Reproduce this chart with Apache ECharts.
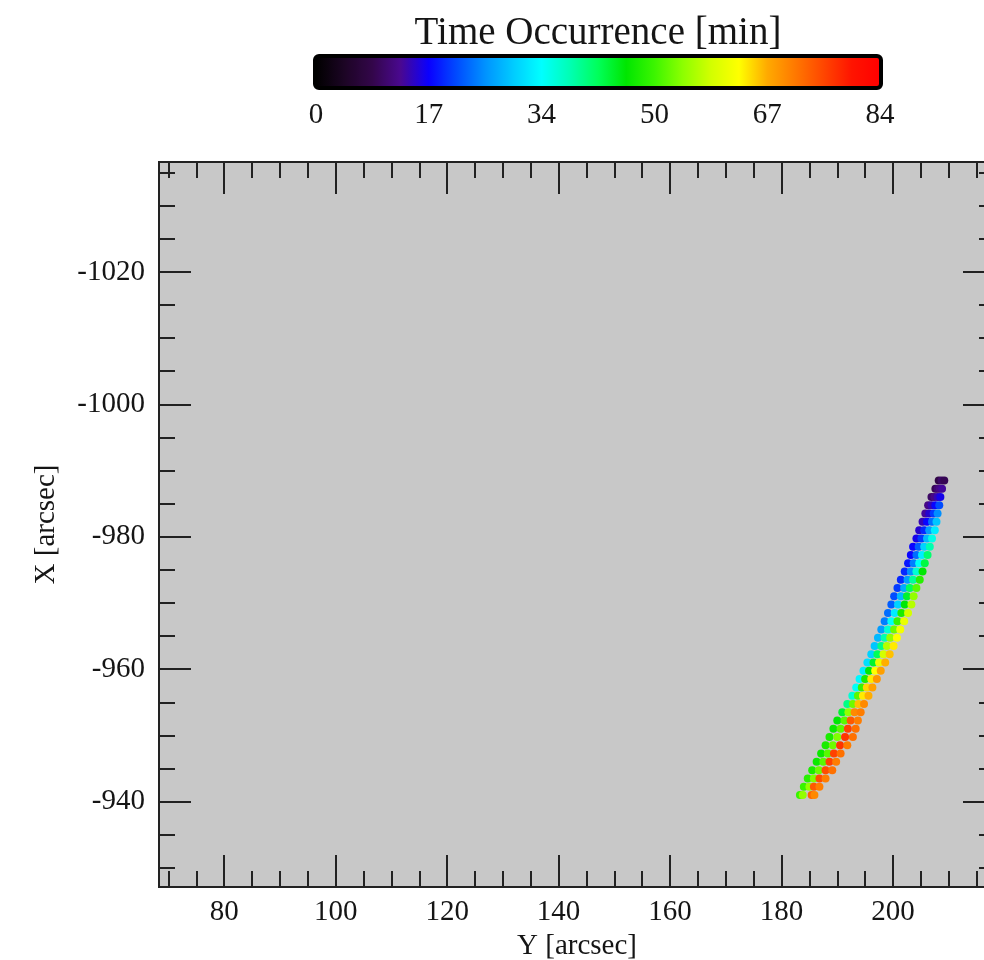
<!DOCTYPE html>
<html>
<head>
<meta charset="utf-8">
<title>Time Occurrence</title>
<script src="https://cdn.jsdelivr.net/npm/echarts@6/dist/echarts.min.js"></script>
<style>
  html, body { margin: 0; padding: 0; background: #ffffff; }
  #chart { width: 984px; height: 960px; }
</style>
</head>
<body>
<div id="chart"></div>
<script>
// Ribbon footpoints: [Y arcsec, X arcsec, time in minutes], four strands across the ribbon
const stripLeft = [
  [208.2, -988.5, 8], [207.6, -987.25, 9], [206.9, -986, 10], [206.3, -984.75, 12],
  [205.8, -983.5, 13], [205.3, -982.25, 14], [204.7, -981, 15], [204.2, -979.75, 16],
  [203.6, -978.5, 17], [203.2, -977.25, 17], [202.7, -976, 18], [202.1, -974.75, 19],
  [201.4, -973.5, 19], [200.8, -972.25, 20], [200.2, -971, 21], [199.7, -969.75, 22],
  [199.1, -968.5, 23], [198.5, -967.25, 24], [197.9, -966, 26], [197.3, -964.75, 28],
  [196.7, -963.5, 29], [196.1, -962.25, 30], [195.4, -961, 31], [194.7, -959.75, 32],
  [194.0, -958.5, 33], [193.4, -957.25, 34], [192.7, -956, 36], [191.8, -954.75, 40],
  [190.9, -953.5, 44], [190.0, -952.25, 46], [189.3, -951, 47], [188.6, -949.75, 48],
  [187.9, -948.5, 48], [187.1, -947.25, 47], [186.3, -946, 47], [185.5, -944.75, 48],
  [184.7, -943.5, 49], [184.0, -942.25, 50], [183.3, -941, 50]
];
const stripInnerLeft = [
  [208.7, -988.5, 10], [208.0, -987.25, 11], [207.4, -986, 12], [206.9, -984.75, 14],
  [206.5, -983.5, 15], [206.1, -982.25, 17], [205.6, -981, 19], [205.1, -979.75, 20],
  [204.6, -978.5, 22], [204.2, -977.25, 23], [203.7, -976, 24], [203.2, -974.75, 25],
  [202.6, -973.5, 26], [202.0, -972.25, 27], [201.4, -971, 28], [200.9, -969.75, 30],
  [200.3, -968.5, 32], [199.7, -967.25, 34], [199.1, -966, 36], [198.5, -964.75, 38],
  [197.9, -963.5, 40], [197.2, -962.25, 42], [196.5, -961, 44], [195.7, -959.75, 46],
  [195.0, -958.5, 48], [194.4, -957.25, 50], [193.7, -956, 52], [192.8, -954.75, 53],
  [192.0, -953.5, 55], [191.3, -952.25, 52], [190.6, -951, 52], [190.0, -949.75, 54],
  [189.2, -948.5, 53], [188.3, -947.25, 52], [187.5, -946, 52], [186.7, -944.75, 53],
  [185.8, -943.5, 54], [185.0, -942.25, 55], [183.8, -941, 55]
];
const stripInnerRight = [
  [209.2, -988.5, 9], [208.4, -987.25, 12], [208.0, -986, 14], [207.6, -984.75, 17],
  [207.3, -983.5, 20], [207.0, -982.25, 23], [206.5, -981, 26], [206.1, -979.75, 28],
  [205.6, -978.5, 30], [205.2, -977.25, 32], [204.7, -976, 34], [204.2, -974.75, 36],
  [203.6, -973.5, 39], [203.0, -972.25, 42], [202.5, -971, 44], [202.1, -969.75, 46],
  [201.5, -968.5, 48], [200.8, -967.25, 50], [200.2, -966, 53], [199.5, -964.75, 55],
  [198.9, -963.5, 57], [198.3, -962.25, 59], [197.5, -961, 61], [196.8, -959.75, 63],
  [196.1, -958.5, 64], [195.3, -957.25, 65], [194.6, -956, 64], [193.8, -954.75, 66],
  [193.1, -953.5, 70], [192.4, -952.25, 74], [191.9, -951, 76], [191.4, -949.75, 77],
  [190.5, -948.5, 77], [189.4, -947.25, 76], [188.6, -946, 76], [187.9, -944.75, 75],
  [186.8, -943.5, 75], [185.8, -942.25, 74], [185.4, -941, 73]
];
const stripRight = [
  [208.8, -987.25, 13], [208.5, -986, 16], [208.3, -984.75, 21],
  [208.0, -983.5, 25], [207.8, -982.25, 29], [207.5, -981, 32], [207.0, -979.75, 35],
  [206.6, -978.5, 38], [206.2, -977.25, 41], [205.7, -976, 43], [205.3, -974.75, 46],
  [204.8, -973.5, 49], [204.2, -972.25, 52], [203.7, -971, 55], [203.3, -969.75, 57],
  [202.7, -968.5, 59], [202.0, -967.25, 61], [201.3, -966, 62], [200.7, -964.75, 63],
  [200.1, -963.5, 64], [199.4, -962.25, 66], [198.6, -961, 67], [197.8, -959.75, 68],
  [197.1, -958.5, 69], [196.3, -957.25, 68], [195.6, -956, 67], [194.8, -954.75, 70],
  [194.2, -953.5, 71], [193.7, -952.25, 71], [193.3, -951, 72], [192.8, -949.75, 72],
  [191.8, -948.5, 71], [190.6, -947.25, 72], [189.8, -946, 71], [189.1, -944.75, 72],
  [187.9, -943.5, 71], [186.8, -942.25, 71], [185.9, -941, 70]
];

// Axis ranges and tick values
const yRange = [68.3, 218.3];          // horizontal axis: Y [arcsec]
const xRange = [-1036.6, -927.1];      // vertical axis: X [arcsec], drawn top to bottom
const yMajorTicks = [80, 100, 120, 140, 160, 180, 200];
const yMinorTicks = [70, 75, 85, 90, 95, 105, 110, 115, 125, 130, 135, 145, 150, 155,
                     165, 170, 175, 185, 190, 195, 205, 210, 215];
const xMajorTicks = [-1020, -1000, -980, -960, -940];
const xMinorTicks = [-1035, -1030, -1025, -1015, -1010, -1005, -995, -990, -985,
                     -975, -970, -965, -955, -950, -945, -935, -930];

// Colour bar
const timeRange = [0, 84];
const timeTicks = [0, 16.8, 33.6, 50.4, 67.2, 84];
const timeColors = [
  '#000000', '#1c0524', '#33064a', '#4a0890', '#0a00ff', '#004cff', '#0092ff',
  '#00ccff', '#00ffff', '#00ffb4', '#00ff5a', '#00e600', '#3cf500', '#8cff00',
  '#d2ff00', '#ffff00', '#ffaa00', '#ff7800', '#ff4600', '#ff1400', '#ff0000'
];

const FONT = 'Liberation Serif';
const INK = '#151515';
const LINE = '#222222';
const plain = v => String(v);

function tickAxisX(pos, ticks, len, withLabels) {
  return {
    type: 'value', gridIndex: 0, position: pos,
    min: yRange[0], max: yRange[1],
    axisLine: { show: true, onZero: false, lineStyle: { color: LINE, width: 2 } },
    axisTick: { show: true, inside: true, length: len, customValues: ticks,
                lineStyle: { color: LINE, width: 2 } },
    axisLabel: withLabels
      ? { show: true, customValues: ticks, margin: 11, color: INK, fontFamily: FONT,
          fontSize: 29, formatter: plain }
      : { show: false },
    splitLine: { show: false }
  };
}
function tickAxisY(pos, ticks, len, withLabels) {
  return {
    type: 'value', gridIndex: 0, position: pos, inverse: true,
    min: xRange[0], max: xRange[1],
    axisLine: { show: true, onZero: false, lineStyle: { color: LINE, width: 2 } },
    axisTick: { show: true, inside: true, length: len, customValues: ticks,
                lineStyle: { color: LINE, width: 2 } },
    axisLabel: withLabels
      ? { show: true, customValues: ticks, margin: 14, color: INK, fontFamily: FONT,
          fontSize: 29, formatter: plain }
      : { show: false },
    splitLine: { show: false }
  };
}

const xMain = tickAxisX('bottom', yMajorTicks, 32, true);
xMain.name = 'Y [arcsec]';
xMain.nameLocation = 'middle';
xMain.nameGap = 33;
xMain.nameTextStyle = { color: INK, fontFamily: FONT, fontSize: 29 };

const yMain = tickAxisY('left', xMajorTicks, 32, true);
yMain.name = 'X [arcsec]';
yMain.nameLocation = 'middle';
yMain.nameGap = 98;
yMain.nameTextStyle = { color: INK, fontFamily: FONT, fontSize: 29 };

const colorbarAxis = (pos, withLabels) => ({
  type: 'value', gridIndex: 1, position: pos,
  min: timeRange[0], max: timeRange[1],
  axisLine: { show: false },
  axisTick: { show: true, inside: true, length: 5, customValues: timeTicks.slice(1, -1),
              lineStyle: { color: '#000', width: 4 } },
  axisLabel: withLabels
    ? { show: true, customValues: timeTicks, margin: 14, color: INK, fontFamily: FONT, fontSize: 29,
        formatter: v => String(Math.round(v)) }
    : { show: false },
  splitLine: { show: false }
});
const cbBottom = colorbarAxis('bottom', true);
const cbTop = colorbarAxis('top', false);
cbTop.name = 'Time Occurrence [min]';
cbTop.nameLocation = 'middle';
cbTop.nameGap = 4;
cbTop.nameTextStyle = { color: INK, fontFamily: FONT, fontSize: 39, verticalAlign: 'bottom' };

const chart = echarts.init(document.getElementById('chart'), null, { renderer: 'canvas' });
chart.setOption({
  animation: false,
  backgroundColor: '#ffffff',
  grid: [
    { left: 159, top: 162, width: 836, height: 725, show: true, outerBoundsMode: 'none',
      containLabel: false, backgroundColor: '#c8c8c8', borderWidth: 0 },
    { left: 316, top: 57, width: 564, height: 30, show: false, outerBoundsMode: 'none',
      containLabel: false }
  ],
  xAxis: [
    xMain,
    tickAxisX('bottom', yMinorTicks, 16, false),
    tickAxisX('top', yMajorTicks, 32, false),
    tickAxisX('top', yMinorTicks, 16, false),
    cbBottom,
    cbTop
  ],
  yAxis: [
    yMain,
    tickAxisY('left', xMinorTicks, 16, false),
    tickAxisY('right', xMajorTicks, 32, false),
    tickAxisY('right', xMinorTicks, 16, false),
    { type: 'value', gridIndex: 1, show: false, min: 0, max: 1 }
  ],
  visualMap: {
    type: 'continuous',
    orient: 'horizontal',
    min: timeRange[0], max: timeRange[1],
    dimension: 2,
    seriesIndex: 0,
    left: 316, top: 57,
    padding: 0,
    itemWidth: 30, itemHeight: 564,
    calculable: false,
    hoverLink: false,
    showLabel: false,
    text: null,
    inRange: { color: timeColors }
  },
  graphic: [
    { type: 'rect', z: 100, silent: true,
      shape: { x: 315, y: 56, width: 566, height: 32, r: 4 },
      style: { fill: 'none', stroke: '#000', lineWidth: 4 } }
  ],
  series: [
    {
      type: 'scatter',
      xAxisIndex: 0, yAxisIndex: 0,
      symbol: 'circle',
      symbolSize: 8,
      itemStyle: { opacity: 1 },
      data: [].concat(stripLeft, stripInnerLeft, stripInnerRight, stripRight)
    }
  ]
});
</script>
</body>
</html>
